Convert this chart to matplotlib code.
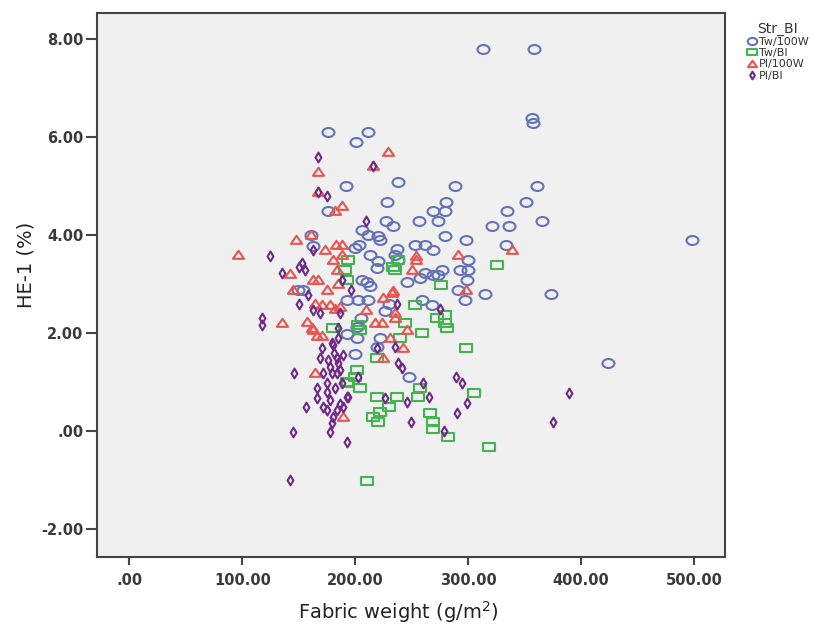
import matplotlib
matplotlib.use("Agg")
import matplotlib.pyplot as plt
from matplotlib.path import Path
from matplotlib.ticker import FuncFormatter
import numpy as np

# data (fabric weight g/m2, HE-1 %)
tw100_x = [176, 211.5, 201, 312.7, 358, 356, 357, 192, 238, 288, 361, 228.5, 280, 351,
           269, 279, 334, 176, 227, 256, 273, 365, 233, 320.7, 336, 205.7, 211.5, 220.4,
           161, 279.4, 298, 222, 333, 163, 253, 262, 269, 236.6, 200, 203, 213, 220.4,
           218.9, 235.2, 238.1, 276.5, 269.1, 273.5, 292.7, 300.1, 298.6, 297.1, 290.6,
           300.1, 314.8, 372.9, 205.7, 210.1, 213, 192.4, 202.7, 211.6, 245.5, 257.3,
           261.7, 153.5, 149.6, 258.8, 267.6, 192.4, 201.2, 201.2, 221.9, 218.9, 199.8,
           247.9, 424, 498, 226, 205, 230]
tw100_y = [6.1, 6.1, 5.9, 7.8, 7.8, 6.38, 6.28, 5.0, 5.08, 5.0, 5.0, 4.68, 4.68, 4.68,
           4.49, 4.49, 4.49, 4.49, 4.29, 4.29, 4.29, 4.29, 4.18, 4.18, 4.18, 4.1, 4.0, 3.99,
           4.0, 3.99, 3.9, 3.9, 3.8, 3.78, 3.8, 3.8, 3.69, 3.71, 3.73, 3.8, 3.59, 3.46,
           3.32, 3.59, 3.49, 3.29, 3.18, 3.18, 3.29, 3.29, 3.08, 2.67, 2.88,
           3.49, 2.8, 2.8, 3.08, 3.05, 2.95, 2.67, 2.67, 2.67, 3.05, 3.12,
           3.22, 2.88, 2.88, 2.67, 2.57, 1.99, 1.89, 2.13, 1.89, 1.72, 1.58,
           1.11, 1.38, 3.9, 2.45, 2.3, 2.6]

twbi_x = [193.9, 191, 192.4, 233.7, 238.1, 235.2, 275.6, 325.1, 252.9, 272, 279.4, 279.4,
          280.9, 180.6, 202.7, 204.2, 244, 239.6, 258.8, 218.9, 298, 201.2, 199.8, 193.9,
          204.2, 257.3, 219, 236.6, 255.8, 305.1, 266.1, 269.1, 269.1, 282.4, 318.7, 216,
          220.4, 221.9, 230.2, 210.7, 192.3]
twbi_y = [3.49, 3.29, 3.08, 3.35, 3.49, 3.29, 2.98, 3.39, 2.57, 2.3, 2.37, 2.2,
          2.1, 2.1, 2.16, 2.06, 2.2, 1.89, 2.0, 1.48, 1.69, 1.24, 1.11, 0.97,
          0.87, 0.87, 0.7, 0.7, 0.7, 0.78, 0.37, 0.19, 0.05, -0.13, -0.32, 0.29,
          0.19, 0.39, 0.48, -1.01, 1.01]

pl100_x = [167, 167, 182, 188, 161, 147.5, 173, 183, 188, 96, 229, 216, 339, 291, 254,
           142, 162.9, 167.3, 145.2, 174.7, 180.6, 188, 183.5, 185, 233.7, 249.9, 253.8,
           298, 235.2, 235.2, 209.5, 217.5, 223.4, 232.2, 224.8, 164.4, 170.3, 177.6, 182,
           186.5, 157, 161.4, 165.9, 170.3, 162.9, 135, 230.7, 242.5, 245.5, 224.8, 164.4,
           189.4]
pl100_y = [5.28, 4.88, 4.5, 4.59, 4.0, 3.9, 3.69, 3.8, 3.8, 3.6, 5.69, 5.4, 3.69, 3.59, 3.57,
           3.2, 3.08, 3.08, 2.88, 2.88, 3.49, 3.59, 3.29, 3.01, 2.85, 3.29, 3.48,
           2.88, 2.4, 2.3, 2.47, 2.2, 2.2, 2.81, 2.71, 2.6, 2.57, 2.57, 2.5,
           2.53, 2.23, 2.1, 1.93, 1.93, 2.06, 2.2, 1.89, 1.69, 2.06, 1.48, 1.18,
           0.29]

plbi_x = [167, 167, 174.7, 124.5, 216, 209.5, 163, 152.6, 155.5, 134.9, 158.5, 188, 196,
          236.6, 275, 162.9, 168.8, 185, 186.5, 235.2, 218.9, 150.5, 150.5, 117.2, 117.2,
          146, 156.4, 142.2, 145.1, 177.6, 193, 170.2, 168.7, 171.7, 179.1, 185, 189.4,
          185, 183.5, 179.1, 165.8, 165.8, 174.6, 171.7, 174.6, 177.6, 180.5, 179.1, 183.5,
          186.4, 189.4, 192.3, 182, 186.5, 180.6, 202.7, 238.1, 241.1, 259.7, 226.3, 245.5,
          265.6, 289.2, 294.2, 299.2, 389.4, 374.7, 290.3, 278.8, 249, 188, 193.9, 174.7,
          176, 181, 184, 178]
plbi_y = [5.6, 4.88, 4.8, 3.58, 5.4, 4.29, 3.69, 3.42, 3.29, 3.22, 2.78, 3.08, 2.88,
          2.6, 2.5, 2.47, 2.4, 2.1, 2.4, 1.72, 1.69, 3.35, 2.6, 2.3, 2.16,
          1.18, 0.48, -1.0, -0.03, -0.03, -0.22, 1.69, 1.48, 1.18, 1.79, 1.89, 1.55,
          1.38, 1.18, 1.18, 0.87, 0.67, 0.8, 0.5, 0.43, 0.63, 0.29, 0.16, 0.43,
          0.56, 0.5, 0.7, 0.87, 1.24, 1.75, 1.11, 1.38, 1.28, 0.97, 0.67, 0.6,
          0.7, 1.11, 0.97, 0.58, 0.78, 0.19, 0.37, 0.01, 0.19, 0.97, 0.7, 0.97,
          1.45, 1.6, 1.5, 1.3]

labels = ["Tw/100W", "Tw/BI", "PI/100W", "PI/BI"]


def squash(path, sx, sy):
    return Path(path.vertices * np.array([sx, sy]), path.codes)

# the source image is stretched sideways, so markers are a bit flat
m_circle = squash(Path.unit_circle(), 1.0, 0.75)
m_square = Path([(-1, -0.67), (1, -0.67), (1, 0.67), (-1, 0.67), (-1, -0.67)], closed=True)
m_tri = Path([(-1, -0.6), (1, -0.6), (0, 0.85), (-1, -0.6)], closed=True)
m_diam = Path([(0, -1), (0.6, 0), (0, 1), (-0.6, 0), (0, -1)], closed=True)

styles = [
    (tw100_x, tw100_y, m_circle, 8.6, "#6372b6"),
    (twbi_x, twbi_y, m_square, 8.4, "#44b450"),
    (pl100_x, pl100_y, m_tri, 8.0, "#e65550"),
    (plbi_x, plbi_y, m_diam, 7.0, "#6f2a8a"),
]

fig = plt.figure(figsize=(8.33, 6.26), dpi=100)
ax = fig.add_axes([0.1168, 0.1107, 0.7535, 0.8690])
ax.set_facecolor("#f0f0f0")

for (xs, ys, mk, ms, col), lab in zip(styles, labels):
    ax.plot(xs, ys, linestyle="none", marker=mk, markersize=ms, mfc="none",
            mec=col, mew=1.5, label=lab)

ax.set_xlim(-28.3, 527.2)
ax.set_ylim(-2.565, 8.537)
ax.set_xticks(np.arange(0, 501, 100))
ax.set_yticks(np.arange(-2, 9, 2))


def spss_fmt(v, pos):
    s = f"{v:.2f}"
    if s in ("0.00", "-0.00"):
        return ".00"
    return s

ax.xaxis.set_major_formatter(FuncFormatter(spss_fmt))
ax.yaxis.set_major_formatter(FuncFormatter(spss_fmt))

for sp in ax.spines.values():
    sp.set_color("#444444")
    sp.set_linewidth(1.5)
ax.tick_params(axis="both", direction="out", width=1.5, color="#444444",
               labelsize=10.5, labelcolor="#3a3a3a")
ax.tick_params(axis="x", length=6, pad=6)
ax.tick_params(axis="y", length=8, pad=2)
for t in ax.get_xticklabels() + ax.get_yticklabels():
    t.set_fontweight("bold")

fig.text(398.5 / 833, 1 - 612 / 626, "Fabric weight (g/m$^2$)", ha="center",
         va="center", fontsize=14, color="#222222")
fig.text(25.6 / 833, 1 - 265 / 626, "HE-1 (%)", ha="center", va="center",
         rotation=90, fontsize=14, color="#222222")

leg = ax.legend(title="Str_BI", loc="upper left", bbox_to_anchor=(746 / 833, 1 - 22 / 626),
                bbox_transform=fig.transFigure, frameon=False, fontsize=8,
                title_fontsize=10, handletextpad=0.2, labelspacing=0.1,
                handlelength=1.0, borderpad=0, borderaxespad=0, markerscale=0.8)
leg.get_title().set_color("#333333")
for t in leg.get_texts():
    t.set_color("#333333")

fig.savefig("out.png", dpi=100)
